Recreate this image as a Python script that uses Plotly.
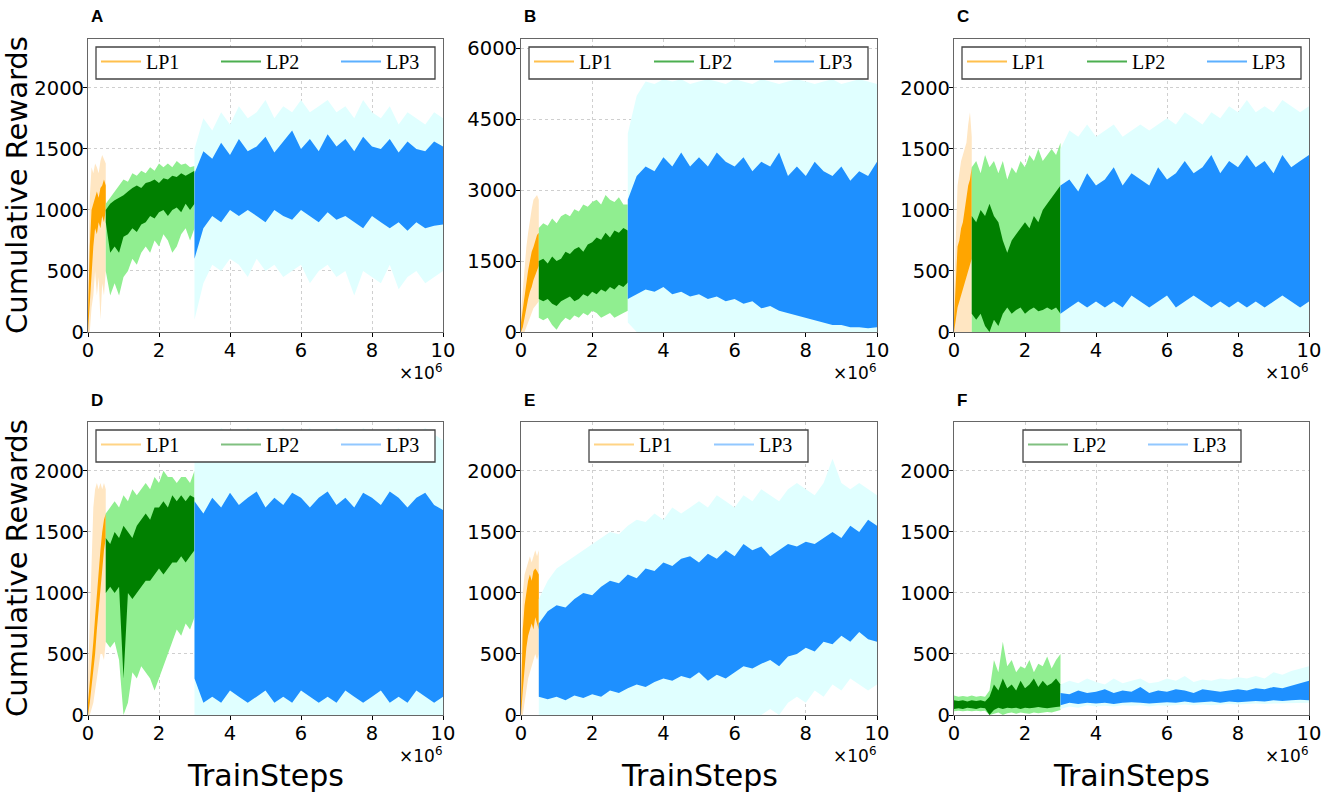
import plotly.graph_objects as go
from plotly.subplots import make_subplots

W, H = 1325, 795

# x positions (x10^6 train steps)
X_LP1 = [0.0, 0.05, 0.1, 0.15, 0.2, 0.25, 0.3, 0.35, 0.4, 0.45, 0.5]
X_LP2 = [0.5, 0.625, 0.75, 0.875, 1.0, 1.125, 1.25, 1.375, 1.5, 1.625, 1.75,
         1.875, 2.0, 2.125, 2.25, 2.375, 2.5, 2.625, 2.75, 2.875, 3.0]
X_LP3 = [3.0, 3.25, 3.5, 3.75, 4.0, 4.25, 4.5, 4.75, 5.0, 5.25, 5.5, 5.75, 6.0, 6.25,
         6.5, 6.75, 7.0, 7.25, 7.5, 7.75, 8.0, 8.25, 8.5, 8.75, 9.0, 9.25, 9.5, 9.75, 10.0]
X_E_LP3 = [0.5, 0.75, 1.0, 1.25, 1.5, 1.75, 2.0, 2.25, 2.5, 2.75, 3.0, 3.25, 3.5, 3.75,
           4.0, 4.25, 4.5, 4.75, 5.0, 5.25, 5.5, 5.75, 6.0, 6.25, 6.5, 6.75, 7.0, 7.25,
           7.5, 7.75, 8.0, 8.25, 8.5, 8.75, 9.0, 9.25, 9.5, 9.75, 10.0]
X_F_LP2 = [0.0, 0.125, 0.25, 0.375, 0.5, 0.625, 0.75, 0.875, 1.0, 1.125, 1.25, 1.375,
           1.5, 1.625, 1.75, 1.875, 2.0, 2.125, 2.25, 2.375, 2.5, 2.625, 2.75, 2.875, 3.0]

# ---- panel A ----
A1_dark_lo = [0, 150, 450, 700, 850, 800, 900, 850, 950, 900, 1000]
A1_dark_hi = [150, 700, 1000, 1050, 1100, 1150, 1100, 1180, 1200, 1250, 1200]
A1_light_lo = [0, 0, 200, 300, 500, 300, 450, 100, 400, 300, 500]
A1_light_hi = [300, 1100, 1350, 1300, 1380, 1350, 1300, 1400, 1450, 1420, 1380]
A2_dark_lo = [900, 650, 700, 650, 780, 800, 850, 820, 880, 900, 950, 930, 980, 1000, 950, 1000, 1020, 980, 1050, 1000, 1050]
A2_dark_hi = [1000, 1050, 1080, 1100, 1120, 1150, 1180, 1200, 1180, 1220, 1230, 1250, 1220, 1260, 1250, 1280, 1270, 1300, 1280, 1300, 1320]
A2_light_lo = [500, 300, 400, 300, 450, 500, 600, 550, 650, 700, 650, 750, 700, 800, 750, 650, 700, 800, 850, 750, 850]
A2_light_hi = [1050, 1100, 1150, 1200, 1250, 1230, 1300, 1280, 1320, 1300, 1350, 1320, 1380, 1350, 1380, 1350, 1400, 1370, 1380, 1350, 1360]
A3_dark_lo = [600, 850, 950, 900, 1000, 950, 1000, 950, 900, 1000, 950, 920, 1000, 950, 900, 980, 920, 950, 900, 850, 950, 900, 850, 900, 830, 900, 850, 870, 880]
A3_dark_hi = [1300, 1480, 1420, 1550, 1450, 1580, 1480, 1520, 1600, 1470, 1560, 1650, 1500, 1580, 1480, 1620, 1520, 1580, 1480, 1600, 1520, 1500, 1580, 1470, 1560, 1500, 1480, 1560, 1520]
A3_light_lo = [100, 400, 550, 500, 600, 550, 450, 600, 500, 550, 450, 500, 550, 400, 500, 550, 450, 500, 300, 500, 450, 400, 550, 350, 450, 500, 400, 450, 500]
A3_light_hi = [1500, 1750, 1650, 1800, 1700, 1850, 1750, 1800, 1900, 1750, 1850, 1800, 1900, 1800, 1850, 1900, 1800, 1850, 1750, 1900, 1800, 1750, 1850, 1700, 1800, 1750, 1700, 1800, 1750]

# ---- panel B ----
B1_dark_lo = [0, 100, 300, 500, 700, 850, 950, 1100, 1200, 1300, 1400]
B1_dark_hi = [200, 500, 800, 1100, 1300, 1500, 1700, 1800, 1950, 2050, 2100]
B1_light_lo = [0, 0, 0, 100, 200, 300, 400, 500, 550, 600, 650]
B1_light_hi = [400, 900, 1400, 1800, 2100, 2400, 2600, 2800, 2850, 2900, 2800]
B2_dark_lo = [700, 650, 700, 600, 550, 650, 700, 750, 650, 700, 800, 750, 850, 800, 900, 850, 950, 900, 1000, 950, 1050]
B2_dark_hi = [1500, 1550, 1450, 1600, 1500, 1550, 1700, 1650, 1750, 1800, 1700, 1850, 1900, 2000, 1950, 2100, 2000, 2150, 2100, 2200, 2150]
B2_light_lo = [300, 250, 300, 150, 50, 200, 300, 250, 350, 300, 400, 350, 450, 400, 300, 350, 400, 300, 350, 400, 450]
B2_light_hi = [2200, 2300, 2250, 2400, 2300, 2450, 2500, 2450, 2600, 2550, 2700, 2650, 2750, 2800, 2700, 2900, 2800, 2750, 2850, 2700, 2700]
B3_dark_lo = [700, 800, 900, 850, 950, 800, 850, 750, 800, 700, 750, 650, 700, 600, 650, 500, 550, 450, 400, 350, 300, 250, 200, 150, 150, 100, 100, 80, 100]
B3_dark_hi = [2800, 3300, 3500, 3400, 3700, 3500, 3800, 3500, 3700, 3500, 3800, 3600, 3500, 3700, 3400, 3600, 3500, 3800, 3300, 3500, 3300, 3600, 3400, 3300, 3500, 3200, 3400, 3300, 3600]
B3_light_lo = [200, 0, 0, 0, 0, 0, 0, 0, 0, 0, 0, 0, 0, 0, 0, 0, 0, 0, 0, 0, 0, 0, 0, 0, 0, 0, 0, 0, 0]
B3_light_hi = [4200, 5000, 5300, 5250, 5350, 5300, 5350, 5250, 5300, 5350, 5300, 5250, 5350, 5300, 5250, 5350, 5300, 5250, 5300, 5350, 5300, 5250, 5300, 5350, 5250, 5300, 5350, 5300, 5250]

# ---- panel C ----
C1_dark_lo = [0, 100, 200, 250, 300, 350, 400, 450, 500, 550, 600]
C1_dark_hi = [100, 400, 700, 750, 850, 900, 1000, 1100, 1200, 1250, 1350]
C1_light_lo = [0, 0, 0, 0, 0, 0, 0, 0, 0, 0, 0]
C1_light_hi = [300, 800, 1200, 1300, 1400, 1450, 1500, 1550, 1700, 1800, 1600]
C2_dark_lo = [150, 100, 150, 50, 0, 100, 50, 150, 200, 150, 180, 200, 150, 180, 200, 170, 180, 200, 180, 200, 150]
C2_dark_hi = [950, 900, 1000, 950, 1050, 950, 900, 750, 650, 750, 800, 850, 900, 850, 950, 900, 1000, 1050, 1100, 1150, 1200]
C2_light_lo = [0, 0, 0, 0, 0, 0, 0, 0, 0, 0, 0, 0, 0, 0, 0, 0, 0, 0, 0, 0, 0]
C2_light_hi = [1350, 1400, 1300, 1450, 1350, 1400, 1300, 1400, 1250, 1350, 1300, 1400, 1350, 1450, 1400, 1500, 1400, 1450, 1500, 1450, 1550]
C3_dark_lo = [150, 200, 250, 200, 250, 200, 250, 200, 300, 250, 200, 250, 300, 200, 250, 300, 250, 200, 250, 200, 250, 200, 250, 200, 250, 300, 250, 200, 250]
C3_dark_hi = [1200, 1250, 1150, 1300, 1200, 1250, 1350, 1200, 1300, 1250, 1200, 1350, 1250, 1300, 1400, 1300, 1350, 1450, 1300, 1400, 1350, 1450, 1350, 1400, 1300, 1450, 1350, 1400, 1450]
C3_light_lo = [0, 0, 0, 0, 0, 0, 0, 0, 0, 0, 0, 0, 0, 0, 0, 0, 0, 0, 0, 0, 0, 0, 0, 0, 0, 0, 0, 0, 0]
C3_light_hi = [1500, 1650, 1600, 1700, 1600, 1650, 1700, 1600, 1650, 1700, 1650, 1700, 1750, 1700, 1800, 1750, 1700, 1800, 1750, 1850, 1800, 1900, 1800, 1850, 1800, 1900, 1850, 1800, 1850]

# ---- panel D ----
D1_dark_lo = [0, 100, 200, 350, 500, 700, 900, 1050, 1200, 1350, 1450]
D1_dark_hi = [100, 250, 400, 600, 800, 1000, 1200, 1350, 1500, 1600, 1650]
D1_light_lo = [0, 0, 50, 100, 200, 300, 400, 500, 500, 450, 600]
D1_light_hi = [300, 800, 1300, 1700, 1850, 1900, 1850, 1900, 1850, 1900, 1850]
D2_dark_lo = [1000, 1050, 1000, 1050, 300, 1000, 950, 1000, 1050, 1100, 1100, 1150, 1200, 1150, 1200, 1250, 1250, 1300, 1250, 1300, 1350]
D2_dark_hi = [1450, 1400, 1500, 1450, 1550, 1500, 1450, 1550, 1600, 1650, 1600, 1700, 1700, 1750, 1700, 1800, 1750, 1800, 1750, 1800, 1780]
D2_light_lo = [600, 550, 600, 450, 0, 100, 350, 300, 400, 350, 300, 200, 300, 400, 500, 600, 700, 650, 750, 700, 800]
D2_light_hi = [1650, 1700, 1750, 1700, 1800, 1750, 1850, 1800, 1850, 1900, 1850, 1950, 1900, 2000, 1950, 1950, 1900, 1950, 1950, 1900, 2000]
D3_dark_lo = [300, 100, 150, 100, 200, 150, 100, 150, 200, 100, 150, 100, 200, 150, 100, 150, 100, 200, 150, 100, 150, 200, 100, 150, 100, 200, 150, 100, 150]
D3_dark_hi = [1750, 1650, 1780, 1700, 1820, 1720, 1780, 1830, 1700, 1780, 1720, 1820, 1780, 1700, 1780, 1830, 1720, 1780, 1700, 1820, 1780, 1720, 1830, 1780, 1700, 1780, 1820, 1720, 1680]
D3_light_lo = [0, 0, 0, 0, 0, 0, 0, 0, 0, 0, 0, 0, 0, 0, 0, 0, 0, 0, 0, 0, 0, 0, 0, 0, 0, 0, 0, 0, 0]
D3_light_hi = [2200, 2300, 2250, 2350, 2300, 2250, 2350, 2300, 2250, 2300, 2350, 2250, 2300, 2350, 2250, 2300, 2350, 2300, 2250, 2350, 2300, 2250, 2300, 2350, 2250, 2300, 2350, 2300, 2250]

# ---- panel E ----
E1_dark_lo = [0, 200, 400, 550, 650, 700, 750, 700, 800, 750, 700]
E1_dark_hi = [100, 700, 900, 1000, 1100, 1150, 1100, 1180, 1200, 1180, 1150]
E1_light_lo = [0, 0, 100, 200, 300, 350, 400, 450, 500, 450, 500]
E1_light_hi = [300, 1000, 1150, 1200, 1250, 1300, 1250, 1300, 1350, 1300, 1350]
E3_dark_lo = [150, 130, 150, 120, 160, 140, 170, 150, 200, 180, 220, 250, 230, 270, 300, 280, 320, 300, 350, 280,
              330, 300, 350, 400, 380, 420, 450, 400, 480, 500, 550, 520, 600, 580, 650, 600, 680, 620, 600]
E3_dark_hi = [750, 850, 900, 880, 950, 1000, 980, 1050, 1100, 1080, 1150, 1120, 1200, 1180, 1250, 1220, 1280, 1300, 1250, 1320,
              1280, 1350, 1300, 1400, 1350, 1380, 1300, 1350, 1400, 1380, 1420, 1400, 1450, 1500, 1450, 1550, 1500, 1600, 1550]
E3_light_lo = [0, 0, 0, 0, 0, 0, 0, 0, 0, 0, 0, 0, 0, 0, 0, 0, 0, 0, 0, 0, 0, 0, 0, 0, 0, 0,
               50, 0, 100, 150, 100, 200, 150, 250, 200, 300, 250, 200, 250]
E3_light_hi = [950, 1100, 1200, 1250, 1300, 1350, 1400, 1450, 1500, 1480, 1550, 1600, 1580, 1650, 1600, 1700, 1650, 1700, 1750, 1700,
               1800, 1750, 1700, 1800, 1750, 1850, 1800, 1750, 1850, 1900, 1850, 1800, 1900, 2100, 1900, 1850, 1900, 1850, 1800]

# ---- panel F ----
F2_dark_lo = [50, 55, 50, 60, 55, 50, 60, 55, 0, 40, 60, 50, 60, 55, 60, 50, 60, 55, 60, 65, 60, 55, 60, 65, 70]
F2_dark_hi = [120, 115, 120, 110, 120, 115, 120, 110, 150, 250, 200, 300, 220, 250, 200, 280, 220, 250, 300, 230, 280, 240, 260, 300, 250]
F2_light_lo = [30, 35, 30, 35, 30, 35, 30, 35, 0, 10, 20, 0, 15, 20, 10, 20, 15, 10, 20, 15, 20, 25, 20, 30, 40]
F2_light_hi = [160, 150, 155, 150, 160, 150, 155, 150, 200, 450, 350, 600, 400, 450, 350, 400, 380, 450, 350, 420, 400, 480, 380, 450, 500]
F3_dark_lo = [80, 100, 90, 100, 95, 100, 90, 100, 105, 100, 95, 100, 105, 100, 110, 100, 105, 110, 100, 110, 105, 110, 115, 110, 120, 115, 120, 125, 120]
F3_dark_hi = [180, 170, 200, 180, 190, 210, 180, 200, 190, 230, 180, 200, 190, 210, 200, 180, 210, 200, 190, 200, 210, 200, 220, 210, 230, 220, 240, 260, 280]
F3_light_lo = [50, 70, 60, 80, 70, 75, 70, 80, 75, 80, 70, 80, 75, 80, 85, 80, 85, 80, 85, 90, 85, 90, 95, 90, 95, 100, 95, 100, 100]
F3_light_hi = [250, 280, 260, 300, 270, 250, 300, 260, 280, 300, 260, 270, 300, 280, 320, 270, 290, 280, 300, 290, 310, 300, 320, 300, 350, 330, 360, 380, 400]

DARK = {'LP1': '#FFA500', 'LP2': '#008000', 'LP3': '#1E90FF'}
LIGHT = {'LP1': '#FFE6C2', 'LP2': '#90EE90', 'LP3': '#E0FFFF'}
LEG_TOP = {'LP1': '#FFC04D', 'LP2': '#4CAF50', 'LP3': '#5CB0FF'}
LEG_BOT = {'LP1': '#FFD485', 'LP2': '#80C080', 'LP3': '#92C8FF'}

panels = [
    (1, 1, 'A', [('LP1', X_LP1, A1_light_lo, A1_light_hi, A1_dark_lo, A1_dark_hi),
                 ('LP2', X_LP2, A2_light_lo, A2_light_hi, A2_dark_lo, A2_dark_hi),
                 ('LP3', X_LP3, A3_light_lo, A3_light_hi, A3_dark_lo, A3_dark_hi)]),
    (1, 2, 'B', [('LP1', X_LP1, B1_light_lo, B1_light_hi, B1_dark_lo, B1_dark_hi),
                 ('LP2', X_LP2, B2_light_lo, B2_light_hi, B2_dark_lo, B2_dark_hi),
                 ('LP3', X_LP3, B3_light_lo, B3_light_hi, B3_dark_lo, B3_dark_hi)]),
    (1, 3, 'C', [('LP1', X_LP1, C1_light_lo, C1_light_hi, C1_dark_lo, C1_dark_hi),
                 ('LP2', X_LP2, C2_light_lo, C2_light_hi, C2_dark_lo, C2_dark_hi),
                 ('LP3', X_LP3, C3_light_lo, C3_light_hi, C3_dark_lo, C3_dark_hi)]),
    (2, 1, 'D', [('LP1', X_LP1, D1_light_lo, D1_light_hi, D1_dark_lo, D1_dark_hi),
                 ('LP2', X_LP2, D2_light_lo, D2_light_hi, D2_dark_lo, D2_dark_hi),
                 ('LP3', X_LP3, D3_light_lo, D3_light_hi, D3_dark_lo, D3_dark_hi)]),
    (2, 2, 'E', [('LP1', X_LP1, E1_light_lo, E1_light_hi, E1_dark_lo, E1_dark_hi),
                 ('LP3', X_E_LP3, E3_light_lo, E3_light_hi, E3_dark_lo, E3_dark_hi)]),
    (2, 3, 'F', [('LP2', X_F_LP2, F2_light_lo, F2_light_hi, F2_dark_lo, F2_dark_hi),
                 ('LP3', X_LP3, F3_light_lo, F3_light_hi, F3_dark_lo, F3_dark_hi)]),
]

# pixel boxes of the plot areas and of the legend frames
COL_PX = [(88, 443), (521, 877), (954, 1309)]
ROW_PX = [(39, 332), (422, 715)]
LEG_BOX_PX = {'A': (96, 435), 'B': (529, 868), 'C': (962, 1301),
              'D': (96, 435), 'E': (589, 808), 'F': (1023, 1241)}

fig = make_subplots(rows=2, cols=3)


def band(x, lo, hi, color, row, col):
    fig.add_trace(go.Scatter(x=list(x) + list(x)[::-1], y=list(hi) + list(lo)[::-1],
                             mode='lines', fill='toself', fillcolor=color,
                             line=dict(width=0, color=color), hoverinfo='skip',
                             showlegend=False), row=row, col=col)


for i, (row, col, letter, series) in enumerate(panels):
    leg = 'legend' if i == 0 else 'legend%d' % (i + 1)
    for name, x, llo, lhi, dlo, dhi in series:
        band(x, llo, lhi, LIGHT[name], row, col)
        band(x, dlo, dhi, DARK[name], row, col)
    legcol = LEG_TOP if row == 1 else LEG_BOT
    for name, *_ in series:
        fig.add_trace(go.Scatter(x=[None], y=[None], mode='lines', name=name,
                                 line=dict(color=legcol[name], width=2),
                                 legend=leg), row=row, col=col)
    x0, x1 = COL_PX[col - 1]
    y0, y1 = ROW_PX[row - 1]
    fig.update_xaxes(domain=[x0 / W, x1 / W], range=[0, 10], tickvals=[0, 2, 4, 6, 8, 10],
                     row=row, col=col)
    if letter == 'B':
        fig.update_yaxes(range=[0, 6200], tickvals=[0, 1500, 3000, 4500, 6000], row=row, col=col)
    else:
        fig.update_yaxes(range=[0, 2400], tickvals=[0, 500, 1000, 1500, 2000], row=row, col=col)
    fig.update_yaxes(domain=[1 - y1 / H, 1 - y0 / H], row=row, col=col)

    # legend frame (opaque, above the bands) + legend entries on top of it
    bx0, bx1 = LEG_BOX_PX[letter]
    by0, by1 = y0 + 8, y0 + 40
    fig.add_shape(type='rect', xref='paper', yref='paper', layer='above',
                  x0=bx0 / W, x1=bx1 / W, y0=1 - by1 / H, y1=1 - by0 / H,
                  fillcolor='white', line=dict(color='#444444', width=1.3))
    fig.layout[leg] = dict(x=bx0 / W, y=1 - (y0 + 3) / H, xanchor='left', yanchor='top',
                           orientation='h', bgcolor='rgba(0,0,0,0)', borderwidth=0,
                           font=dict(family='Liberation Serif', size=20, color='black'),
                           entrywidth=65, entrywidthmode='pixels', itemwidth=40)
    # panel letter
    fig.add_annotation(text='<b>%s</b>' % letter, x=(x0 + 1) / W, y=1 - (y0 - 22) / H,
                       xref='paper', yref='paper', xanchor='left', yanchor='middle', showarrow=False,
                       font=dict(family='Liberation Sans', size=17, color='black'))
    # x10^6 offset label
    fig.add_annotation(text='×10<sup>6</sup>', x=(x1 + 1) / W, y=1 - (y1 + 40) / H,
                       xref='paper', yref='paper', xanchor='right', yanchor='middle', showarrow=False,
                       font=dict(family='DejaVu Sans', size=17, color='black'))
    if row == 2:
        fig.add_annotation(text='TrainSteps', x=(x0 + x1) / 2 / W, y=1 - 775 / H,
                           xref='paper', yref='paper', xanchor='center', yanchor='middle', showarrow=False,
                           font=dict(family='DejaVu Sans', size=30, color='black'))

for yc in (185, 568):
    fig.add_annotation(text='Cumulative Rewards', x=17 / W, y=1 - yc / H, textangle=-90,
                       xref='paper', yref='paper', xanchor='center', yanchor='middle', showarrow=False,
                       font=dict(family='DejaVu Sans', size=29, color='black'))

fig.update_xaxes(showgrid=True, gridcolor='#cfcfcf', griddash='dot', gridwidth=1,
                 showline=True, linecolor='#666666', linewidth=1.2, mirror=True,
                 ticks='outside', ticklen=4, tickcolor='black', zeroline=False, automargin=False,
                 ticklabelstandoff=-4,
                 tickfont=dict(family='DejaVu Sans', size=19.5, color='black'))
fig.update_yaxes(showgrid=True, gridcolor='#cfcfcf', griddash='dot', gridwidth=1,
                 showline=True, linecolor='#666666', linewidth=1.2, mirror=True,
                 ticks='outside', ticklen=4, tickcolor='black', zeroline=False, automargin=False,
                 ticklabelstandoff=-5,
                 tickfont=dict(family='DejaVu Sans', size=19.5, color='black'))

fig.update_layout(width=W, height=H, margin=dict(l=0, r=0, t=0, b=0, autoexpand=False),
                  plot_bgcolor='white', paper_bgcolor='white')

fig.write_html("out.html", config={'displayModeBar': False},
               post_script="document.body.style.margin='0px';document.body.style.overflow='hidden';")
